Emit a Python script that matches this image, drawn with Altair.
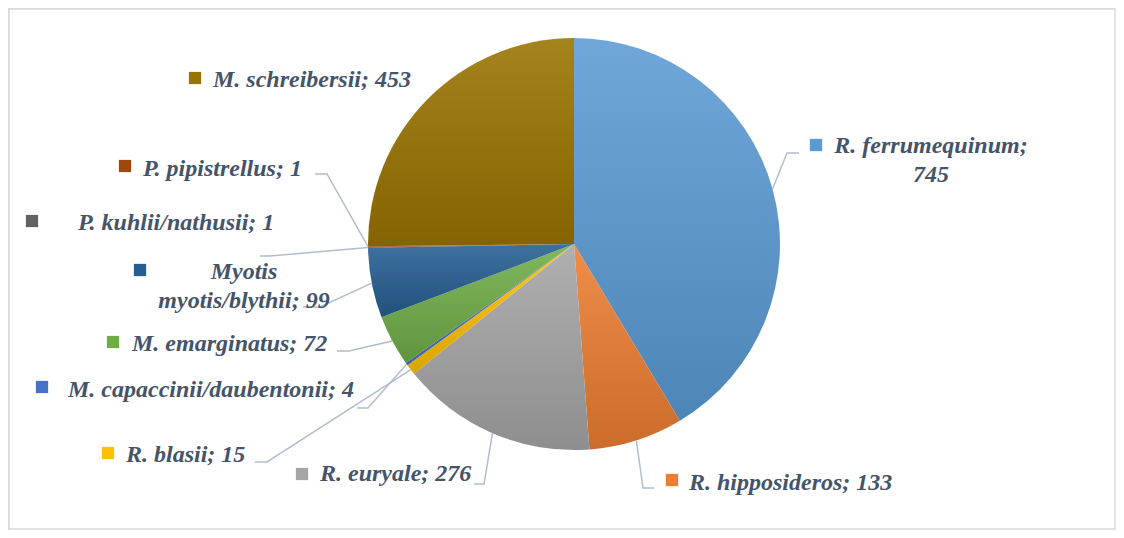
import math
import altair as alt
import pandas as pd

# ---- data ----
species = ["R. ferrumequinum", "R. hipposideros", "R. euryale", "R. blasii",
           "M. capaccinii/daubentonii", "M. emarginatus", "Myotis myotis/blythii",
           "P. kuhlii/nathusii", "P. pipistrellus", "M. schreibersii"]
counts = [745, 133, 276, 15, 4, 72, 99, 1, 1, 453]
colors = ["#5B9BD5", "#ED7D31", "#A5A5A5", "#FFC000", "#4472C4",
          "#70AD47", "#255E91", "#636363", "#9E480E", "#997300"]

# ---- layout (chart pixel coordinates) ----
W, H = 1108, 522
CX, CY, R = 566, 236, 206
TEXT_COLOR = "#44546A"
LEADER_COLOR = "#B0BDCE"
FONT = "Times New Roman"
FS = 24

label_lines = [
    (0, 0, "center", 923, 145), (0, 1, "center", 923, 174),
    (1, 0, "left", 681, 482),
    (2, 0, "left", 312, 473),
    (3, 0, "left", 118, 454),
    (4, 0, "left", 60, 389),
    (5, 0, "left", 124, 343),
    (6, 0, "center", 236, 271), (6, 1, "center", 236, 300),
    (7, 0, "left", 70, 222),
    (8, 0, "left", 135, 168),
    (9, 0, "left", 205, 79),
]
square_pos = [(808, 137), (664, 472), (294, 466), (100, 445), (34, 379),
              (105, 334), (132, 262), (24, 213), (117, 158), (187, 70)]
leader_pts = [[(779, 145), (791, 145)], [(635, 480), (646, 480)],
              [(476, 476), (466, 476)], [(259, 454), (247, 454)],
              [(360, 400), (349, 400)], [(341, 343), (329, 343)],
              [(312, 299), (295, 299)], [(262, 248), (252, 248)],
              [(319, 166), (307, 166)], None]


def lines_for(i):
    if i == 0:
        return [f"{species[i]};", f"{counts[i]}"]
    if i == 6:
        first, rest = species[i].split(" ", 1)
        return [first, f"{rest}; {counts[i]}"]
    return [f"{species[i]}; {counts[i]}"]


def mix(hexc, other, t):
    h = hexc.lstrip("#")
    r, g, b = int(h[0:2], 16), int(h[2:4], 16), int(h[4:6], 16)
    o = 255 if other == "white" else 0
    r, g, b = [round(c + (o - c) * t) for c in (r, g, b)]
    return f"#{r:02x}{g:02x}{b:02x}"


df = pd.DataFrame({"idx": list(range(len(species))), "species": species, "count": counts})

base = alt.Chart(df).transform_joinaggregate(
    total="sum(count)"
).transform_window(
    cum="sum(count)", sort=[alt.SortField("idx")], frame=[None, 0]
).transform_calculate(
    f0="(datum.cum - datum.count) / datum.total",
    f1="datum.cum / datum.total",
)

frame = alt.Chart(pd.DataFrame({"a": [0]})).mark_rect(
    fill="white", stroke="#D9D9D9", strokeWidth=1.5
).encode(x=alt.value(1), x2=alt.value(W - 1), y=alt.value(1), y2=alt.value(H - 1))

layers = []
for i, c in enumerate(colors):
    grad = {
        "gradient": "linear", "x1": 0, "y1": 0, "x2": 0, "y2": 1,
        "stops": [{"offset": 0, "color": mix(c, "white", 0.12)},
                  {"offset": 1, "color": mix(c, "black", 0.14)}],
    }
    layers.append(
        base.transform_filter(alt.datum.idx == i).mark_arc(
            radius=R, fill=grad
        ).encode(
            theta=alt.Theta("f0:Q", scale=alt.Scale(domain=[0, 1], range=[0, 2 * math.pi])),
            theta2="f1:Q",
            x=alt.value(CX), y=alt.value(CY),
        )
    )

total = sum(counts)
rows = []
cum = 0
for i, cnt in enumerate(counts):
    mid = (cum + cnt / 2) / total
    cum += cnt
    if leader_pts[i] is None:
        continue
    a = 2 * math.pi * mid
    sx, sy = CX + R * math.sin(a), CY - R * math.cos(a)
    pts = [(sx, sy)] + leader_pts[i]
    for k, (x, y) in enumerate(pts):
        rows.append({"g": i, "o": k, "x": x, "y": y})
leaders = alt.Chart(pd.DataFrame(rows)).mark_line(
    color=LEADER_COLOR, strokeWidth=1.5
).encode(
    x=alt.X("x:Q", scale=None), y=alt.Y("y:Q", scale=None),
    detail="g:N", order="o:Q",
)

sq = pd.DataFrame({"x": [p[0] for p in square_pos], "y": [p[1] for p in square_pos],
                   "species": species})
squares = alt.Chart(sq).mark_square(size=150, opacity=1).encode(
    x=alt.X("x:Q", scale=None), y=alt.Y("y:Q", scale=None),
    color=alt.Color("species:N", scale=alt.Scale(domain=species, range=colors), legend=None),
)

trows = []
for (i, ln, al, x, y) in label_lines:
    trows.append({"t": lines_for(i)[ln], "x": x, "y": y, "al": al})
tdf = pd.DataFrame(trows)
texts = []
for al in ["left", "center"]:
    texts.append(
        alt.Chart(tdf[tdf["al"] == al]).mark_text(
            align=al, baseline="alphabetic", font=FONT, fontSize=FS,
            fontStyle="italic", fontWeight="bold", color=TEXT_COLOR,
        ).encode(
            x=alt.X("x:Q", scale=None), y=alt.Y("y:Q", scale=None), text="t:N"
        )
    )

chart = alt.layer(frame, *layers, leaders, squares, *texts).properties(
    width=W, height=H, padding=0, autosize=alt.AutoSizeParams(type="none")
).configure_view(stroke=None).configure(background="white", font=FONT)

chart.save("out.html", embed_options={"renderer": "svg", "actions": False})
